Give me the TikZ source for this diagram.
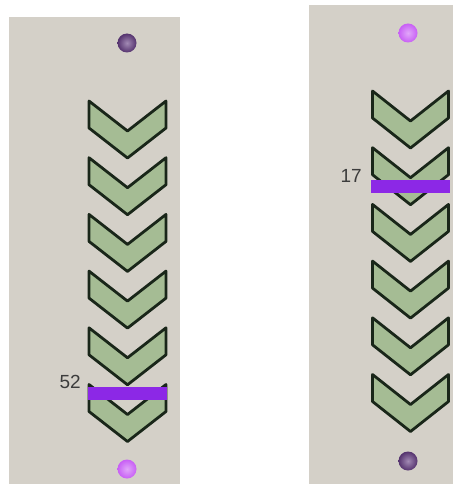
\documentclass[tikz,border=0pt]{standalone}
\usepackage{fontspec}
\setmainfont{Liberation Sans}
\definecolor{panel}{RGB}{212,208,200}
\definecolor{chev}{RGB}{165,188,148}
\definecolor{chevline}{RGB}{25,38,25}
\definecolor{barcol}{RGB}{140,40,230}
\definecolor{darkball}{RGB}{100,60,130}
\definecolor{lightball}{RGB}{200,95,245}
\definecolor{lbl}{RGB}{60,60,60}

\begin{document}
\begin{tikzpicture}[x=1pt,y=-1pt,
  chevron/.style={fill=chev,draw=chevline,line width=2.8pt,line join=round},
  levelbar/.style={fill=barcol},
  endball/.style={circle,minimum size=19pt,inner sep=0pt},
  lvl/.style={anchor=base east,inner sep=0pt,text=lbl,font=\fontsize{19}{19}\selectfont}]
  \useasboundingbox (0,0) rectangle (453,484);
  % panels
  \fill[panel] (9,17) rectangle (180,484);
  \fill[panel] (309,5) rectangle (453,484);
  % chevrons
  \foreach \k in {0,...,5} {
    \draw[chevron] (89,101+56.7*\k) -- (127.5,131+56.7*\k) -- (166,101+56.7*\k)
      -- (166,128+56.7*\k) -- (127.5,158+56.7*\k) -- (89,128+56.7*\k) -- cycle;
    \draw[chevron] (372.5,91+56.7*\k) -- (410.5,121+56.7*\k) -- (448.5,91+56.7*\k)
      -- (448.5,118+56.7*\k) -- (410.5,148+56.7*\k) -- (372.5,118+56.7*\k) -- cycle;
  }
  % level bars and values
  \fill[levelbar] (88,387) rectangle (167,400);
  \fill[levelbar] (371,180) rectangle (450,193);
  \node[lvl] (valL) at (81,388) {52};
  \node[lvl] (valR) at (362,182) {17};
  % end balls
  \node[endball,inner color=darkball!60!white,outer color=darkball!85!black] (topL) at (127,43) {};
  \node[endball,inner color=lightball!55!white,outer color=lightball] (botL) at (127,469) {};
  \node[endball,inner color=lightball!55!white,outer color=lightball] (topR) at (408,33) {};
  \node[endball,inner color=darkball!60!white,outer color=darkball!85!black] (botR) at (408,461) {};
\end{tikzpicture}
\end{document}
